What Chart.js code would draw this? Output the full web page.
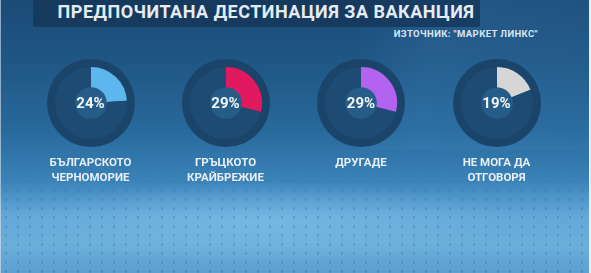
<!DOCTYPE html>
<html>
<head>
<meta charset="utf-8">
<script src="https://cdn.jsdelivr.net/npm/chart.js@4"></script>
<style>
  html, body { margin: 0; padding: 0; }
  body {
    width: 591px; height: 273px; overflow: hidden; position: relative;
    font-family: Roboto, "Liberation Sans", sans-serif;
    background:
      radial-gradient(ellipse 260px 40px at 260px 222px, rgba(140,200,240,0.45), rgba(140,200,240,0) 100%),
      linear-gradient(180deg, #1c4b77 0px, #1f5684 60px, #28699b 130px, #3a82b8 180px, #62a7d7 215px, #6aaedb 245px, #5d9fcf 273px);
  }
  .dots {
    position: absolute; left: 0; top: 150px; width: 591px; height: 123px;
    background-image: radial-gradient(circle, rgba(30,80,130,0.28) 0.8px, rgba(30,80,130,0) 1.5px);
    background-size: 12px 9px;
    -webkit-mask-image: linear-gradient(180deg, rgba(0,0,0,0), rgba(0,0,0,1) 60px);
  }
  .panel { position: absolute; left: 360px; top: 0; width: 231px; height: 150px;
    background: linear-gradient(100deg, rgba(255,255,255,0) 0%, rgba(70,140,200,0.18) 30%, rgba(70,140,200,0.10) 100%); }
  .banner { position: absolute; left: 33px; top: 0; width: 447px; height: 27px;
    background: rgba(20,52,86,0.75); border-radius: 0 0 2px 2px; }
  .title { position: absolute; left: 33px; top: 1px; width: 466px; text-align: center;
    color: #e4ebf2; font-weight: 700; font-size: 18px; line-height: 22px; letter-spacing: 0.5px; }
  .source { position: absolute; right: 53px; top: 28px; color: #dce6ef;
    font-weight: 700; font-size: 9.5px; line-height: 12px; letter-spacing: 0.4px; }
  .donut { position: absolute; width: 100px; height: 100px; }
  .pct { position: absolute; width: 80px; text-align: center; color: #f2f5f8;
    font-weight: 700; font-size: 15px; line-height: 18px; }
  .lbl { position: absolute; width: 130px; text-align: center; color: #e8eef4;
    font-weight: 700; font-size: 11.5px; line-height: 15px; }
  .edgeR { position: absolute; right: 0; top: 0; width: 2px; height: 273px; background: #e9eef2; }
  .edgeL { position: absolute; left: 0; top: 0; width: 1px; height: 273px; background: rgba(220,230,240,0.6); }
</style>
</head>
<body>
<div class="dots"></div>
<div class="panel"></div>
<div class="banner"></div>
<div class="title">ПРЕДПОЧИТАНА ДЕСТИНАЦИЯ ЗА ВАКАНЦИЯ</div>
<div class="source">ИЗТОЧНИК: "МАРКЕТ ЛИНКС"</div>
<div id="charts"></div>
<div class="edgeL"></div>
<div class="edgeR"></div>
<script>
// Survey answers, percent of respondents
const categories = [
  ['БЪЛГАРСКОТО', 'ЧЕРНОМОРИЕ'],
  ['ГРЪЦКОТО', 'КРАЙБРЕЖИЕ'],
  ['ДРУГАДЕ'],
  ['НЕ МОГА ДА', 'ОТГОВОРЯ']
];
const values = [24, 29, 29, 19];
const arcColors = ['#5db6ee', '#e1195f', '#b462f0', '#d6d6d6'];

// layout
const centersX = [90.5, 225.5, 361, 496.5];
const centerY = 103;

// draws the dark outer disc and the lighter inner disc behind each ring
const discPlugin = {
  id: 'discs',
  beforeDatasetsDraw(chart) {
    const arc = chart.getDatasetMeta(0).data[0];
    if (!arc) return;
    const ctx = chart.ctx;
    ctx.save();
    ctx.fillStyle = '#1b446a';
    ctx.beginPath(); ctx.arc(arc.x, arc.y, 44, 0, Math.PI * 2); ctx.fill();
    ctx.fillStyle = '#265d88';
    ctx.beginPath(); ctx.arc(arc.x, arc.y, 22, 0, Math.PI * 2); ctx.fill();
    ctx.restore();
  }
};

const holder = document.getElementById('charts');

values.forEach((v, i) => {
  const cx = centersX[i];

  const canvas = document.createElement('canvas');
  canvas.className = 'donut';
  canvas.width = 100; canvas.height = 100;
  canvas.style.left = (cx - 50) + 'px';
  canvas.style.top = (centerY - 50) + 'px';
  holder.appendChild(canvas);

  new Chart(canvas.getContext('2d'), {
    type: 'doughnut',
    data: {
      labels: ['value', 'rest'],
      datasets: [{
        data: [v, 100 - v],
        backgroundColor: [arcColors[i], '#1e4b73'],
        borderWidth: 0
      }]
    },
    options: {
      responsive: false,
      animation: false,
      radius: 36,
      cutout: 22,
      layout: { padding: 0 },
      plugins: { legend: { display: false }, tooltip: { enabled: false } }
    },
    plugins: [discPlugin]
  });

  const pct = document.createElement('div');
  pct.className = 'pct';
  pct.textContent = v + '%';
  pct.style.left = (cx - 40) + 'px';
  pct.style.top = (centerY - 9) + 'px';
  holder.appendChild(pct);

  const lbl = document.createElement('div');
  lbl.className = 'lbl';
  lbl.innerHTML = categories[i].join('<br>');
  lbl.style.left = (cx - 65) + 'px';
  lbl.style.top = '155px';
  holder.appendChild(lbl);
});
</script>
</body>
</html>
